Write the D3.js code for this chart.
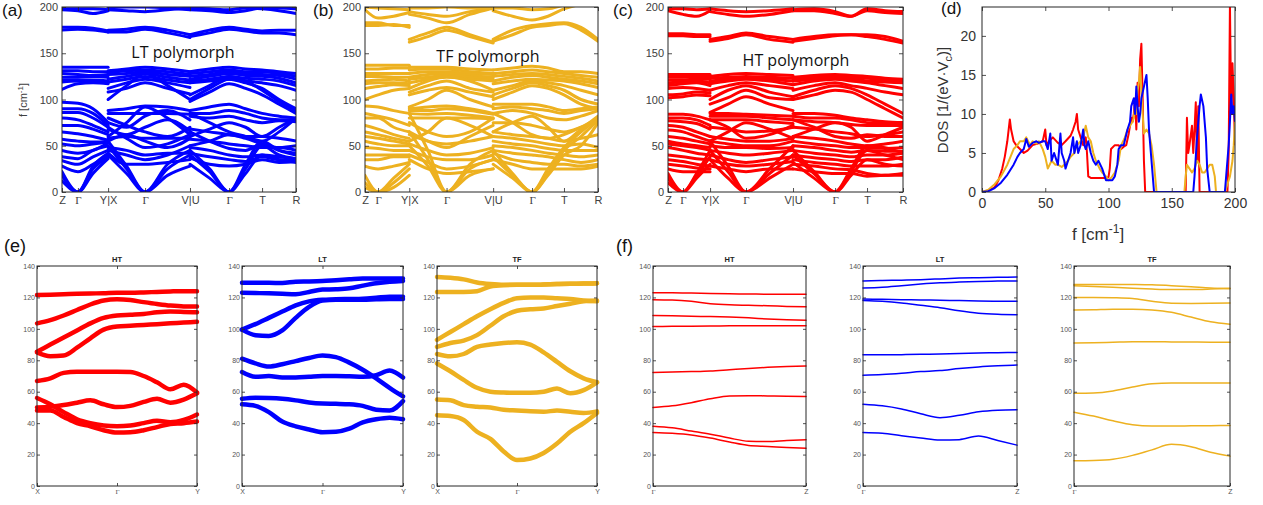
<!DOCTYPE html>
<html><head><meta charset="utf-8">
<script src="https://cdn.jsdelivr.net/npm/d3@7"></script>
<style>body{margin:0;background:#fff} svg{display:block}</style></head>
<body><svg id="c" width="1263" height="505"></svg>
<script>
// ---------------- DATA ----------------
const kLabels = ["Z","Γ","Y|X","Γ","V|U","Γ","T","R"];
const kPosLT = [0,0.068,0.197,0.355,0.547,0.714,0.855,1];
const kPosTF = [0,0.056,0.19,0.35,0.55,0.717,0.854,1];
const kPosHT = [0,0.064,0.179,0.332,0.532,0.711,0.847,1];
// sample positions (in k-point index units) for the three continuous path pieces
const groupIdx = [[0,1,1.5,2],[2,2.5,3,3.5,4],[4,4.5,5,5.5,6,6.5,7]];

const LT_g1 = [[198,198,198,197],[197,196,193,196],[178,178,177,174],[175,176,175,173],[135,135,135,135],[131,131,130,130],[128,127,126,127],[124,124,125,124],[121,121,121,120],[119,120,119,118],[111,117,118,117],[97,96,90,75],[90,90,85,72],[86,86,80,70],[80,78,72,65],[72,72,68,62],[65,63,60,56],[57,55,54,55],[52,50,52,54],[45,42,45,53],[38,36,45,50],[34,30,38,45],[28,22,30,40],[22,0,28,42],[18,0,25,38],[12,0,20,36]];
const LT_g2 = [[199,200,200,199,197],[197,196,195,197,199],[175,176,178,175,170],[173,173,176,172,167],[131,133,135,133,130],[129,131,132,130,127],[127,128,130,127,125],[122,125,128,124,121],[119,122,125,121,118],[112,118,122,118,113],[100,115,128,115,100],[108,112,118,112,106],[88,90,93,92,88],[85,85,85,85,84],[60,75,92,80,62],[75,70,82,88,78],[68,62,70,78,66],[80,72,65,60,70],[58,60,58,58,58],[55,62,55,48,58],[70,58,48,52,62],[48,45,40,42,42],[45,40,35,40,50],[42,30,30,32,35],[55,28,0,30,45],[50,25,0,25,40],[40,20,0,18,28]];
const LT_g3 = [[199,198,197,199,198,196,193],[197,196,194,196,199,199,198],[170,175,178,176,174,175,175],[168,172,176,174,172,172,170],[130,133,135,133,132,130,128],[128,130,132,130,130,128,125],[125,127,130,128,127,126,122],[122,125,128,126,125,123,118],[120,122,125,123,122,120,115],[118,120,122,120,118,115,110],[100,112,122,118,112,100,90],[105,115,125,120,110,98,88],[98,108,117,112,105,95,85],[88,92,95,90,85,82,80],[85,85,88,85,80,78,78],[82,80,82,78,75,77,76],[60,68,75,70,60,70,80],[85,75,65,60,55,65,80],[68,65,62,60,60,58,55],[50,55,62,58,52,48,50],[57,55,52,50,48,48,45],[65,55,47,45,52,45,42],[48,45,40,38,40,38,36],[42,38,35,33,38,35,35],[37,30,28,30,35,32,33],[45,25,0,30,55,45,40],[40,22,0,25,50,40,36],[30,15,0,20,40,35,32]];

const TF_g1 = [[200,199,198,197],[197,188,190,194],[183,183,180,180],[180,180,181,178],[137,137,137,137],[133,133,134,134],[128,128,128,128],[125,125,124,124],[120,121,122,120],[117,118,118,117],[112,114,116,115],[100,105,110,112],[93,92,88,85],[85,82,78,72],[80,80,70,65],[72,68,62,58],[65,62,58,55],[60,58,55,52],[55,52,50,50],[48,47,45,45],[40,40,40,40],[35,35,38,38],[28,25,28,32],[18,0,15,30],[10,0,10,25],[5,0,5,18]];
const TF_g2 = [[199,199,200,199,199],[195,192,190,195,199],[192,188,183,192,199],[165,172,178,170,162],[162,168,175,168,161],[135,135,135,133,132],[132,133,133,130,128],[128,130,130,128,127],[124,127,128,126,124],[122,124,126,124,122],[118,122,124,122,120],[112,120,125,120,110],[108,115,120,112,108],[105,110,113,108,103],[92,100,110,100,92],[90,92,93,90,85],[88,88,90,88,84],[85,84,85,83,80],[80,80,80,80,79],[55,65,80,72,60],[75,65,60,65,80],[62,55,52,55,60],[65,55,48,60,72],[52,45,40,42,48],[45,38,35,35,40],[40,32,25,28,35],[35,25,20,22,25],[85,45,0,30,45],[65,35,0,25,35],[50,28,0,18,25]];
const TF_g3 = [[199,199,197,198,202,205,208],[196,190,186,190,198,203,206],[165,175,180,182,183,178,165],[163,170,178,180,182,175,163],[132,134,136,134,130,130,128],[128,130,132,130,128,126,124],[125,127,128,127,125,123,120],[120,124,126,124,122,120,117],[117,120,122,121,120,117,113],[110,115,120,118,115,110,105],[105,112,118,115,110,100,95],[100,108,115,112,105,95,90],[95,95,95,92,88,90,92],[90,92,90,88,85,88,90],[85,88,85,80,78,82,88],[65,75,82,70,55,68,82],[75,75,72,68,65,70,78],[85,75,62,58,62,70,80],[65,62,60,58,55,58,62],[60,58,55,52,50,52,48],[55,52,50,47,45,45,45],[50,48,45,42,40,38,40],[45,42,40,38,35,32,35],[42,35,32,30,30,28,30],[35,30,25,25,25,25,28],[45,20,0,25,48,65,80],[38,18,0,20,45,60,78],[30,15,0,18,40,50,75]];

const HT_g1 = [[198,198,197,198],[196,192,190,196],[171,171,170,170],[169,169,168,168],[127,127,127,127],[124,124,125,125],[121,121,122,122],[118,119,120,118],[115,117,118,115],[112,113,112,110],[105,106,108,107],[102,103,105,104],[84,84,82,78],[80,80,78,72],[77,76,74,68],[72,70,65,60],[67,65,60,55],[60,58,55,52],[55,52,50,48],[52,50,48,45],[48,45,42,40],[40,38,36,35],[35,33,30,28],[30,28,26,25],[25,22,22,22],[20,0,20,45],[15,0,18,38],[10,0,15,30]];
const HT_g2 = [[198,196,195,196,198],[195,192,190,192,196],[165,168,172,168,165],[163,166,170,165,162],[125,127,128,127,126],[123,124,125,124,123],[120,122,123,122,120],[117,120,122,120,116],[110,115,118,115,112],[100,110,115,108,103],[95,102,110,102,100],[86,95,103,95,88],[85,85,84,83,82],[82,82,82,80,78],[78,78,78,76,74],[55,65,75,68,58],[70,68,65,66,70],[78,70,58,62,72],[60,57,55,55,58],[55,52,50,50,55],[50,48,48,47,48],[45,42,40,42,45],[40,35,32,35,38],[35,30,28,30,33],[28,25,22,25,25],[55,28,0,25,50],[45,22,0,20,40],[35,15,0,15,30]];
const HT_g3 = [[197,198,195,190,198,196,195],[196,196,193,190,196,194,193],[165,168,170,170,170,168,163],[163,166,169,170,168,165,161],[124,126,127,126,125,123,122],[122,124,125,124,123,121,120],[120,122,123,122,120,119,118],[116,120,122,120,118,115,112],[110,115,118,115,112,108,105],[103,110,115,112,105,95,85],[100,105,110,108,100,90,80],[85,85,83,80,78,76,75],[82,80,80,78,75,74,73],[78,76,75,73,72,72,72],[60,68,75,70,55,62,70],[70,68,65,63,60,62,65],[78,70,60,58,62,60,60],[60,58,55,52,50,52,55],[55,52,50,48,48,47,48],[50,48,45,43,45,44,44],[45,42,40,38,40,40,42],[40,37,35,33,35,35,38],[35,32,30,28,28,28,30],[30,28,25,24,20,18,20],[25,22,20,20,17,18,18],[45,22,0,25,50,48,42],[40,20,0,22,45,40,35],[32,15,0,18,35,30,28]];

// DOS (panel d)
const dosF_HT = [0,5,10,13,16,18,20,22,23,25,27,30,33,36,40,44,48,50,51,53,56,60,63,66,70,72,74,75,76,78,80,82,83,84,86,90,95,98,100,101,102,105,108,110,112,114,116,118,119,120,121,122,123,124,125,126,127,128,129,140,160,161,162,163,164,166,167,168,169,170,171,172,180,193,194,195,196,197,198,199,200];
const dosV_HT = [0,0.2,0.6,1.5,3,4.5,6.5,9.3,8,6.5,6,5.5,5,5.3,6,6.2,6.5,8,6,6.5,7,6.3,6,6.5,7.2,8,9,10,8,7,6,7,5,2,1.8,1.8,1.8,1.8,1.9,3,5.5,6,6,5.5,5.8,6,7.5,9.5,9,10,12,8,14,11,17,19,12,4,0,0,0,0,9.5,5,6,8.5,5,8,11.5,4,11,0,0,0,0,5,24,10,16.5,12,6];
const dosF_TF = [0,5,10,15,20,25,28,30,33,35,38,40,43,45,48,50,52,55,58,60,63,65,68,70,73,75,78,80,82,84,86,88,90,93,95,98,100,102,105,108,110,113,115,117,119,120,121,122,123,124,125,126,127,128,130,132,134,136,138,140,160,161,162,164,166,168,170,172,174,176,178,180,182,184,185,190,192,194,196,198,199,200];
const dosV_TF = [0,0.3,1,2,3.5,5.5,6,6.5,6.5,7,6,6.5,6.2,6.5,5.5,4.5,3,4,3.5,3.5,3.2,3.5,4,4.5,5,6,6.5,7,8.5,7,6.5,5,4,3,2.5,2,1.5,1.8,2.5,4,6,7,8,8.5,9,9.5,11,10,13,14,16,13,10,7.5,8,7.5,6,3.5,0,0,0,2,3.5,3,2.5,3,4,3.5,2.5,2.5,3,3.5,3.5,2,0,0,0,1,2,4,6,9];
const dosF_LT = [0,5,10,15,20,25,28,30,33,35,37,40,43,45,48,50,52,54,55,57,58,60,62,63,65,66,68,70,72,73,75,76,78,80,81,82,84,86,88,90,92,95,97,98,100,103,105,107,108,110,112,115,117,118,120,121,122,123,124,125,126,128,130,131,132,134,136,140,160,167,168,170,172,173,175,177,178,180,185,192,193,195,196,197,198,199,200];
const dosV_LT = [0,0.1,0.5,1.2,2.2,3.5,4.5,5,5.5,6.8,5.8,6.3,6.5,6.3,6.5,6.5,5.5,7.5,4,5,4.5,3.5,7.5,5,4,3,4,5,7,5,6.5,5,6,8,6,5.5,6.5,5,4,3.5,4,3,2,1.5,1.5,1.5,2,3.5,5.5,6,6,8,9,11,12,10,13.5,11,9,10,12,13.5,15,12,8,4,0,0,0,0,2,7,11,12.5,11,7,3,0,0,0,2,6,9,12.5,10,11,9];
const dosTicksX = [0,50,100,150,200];
const dosTicksY = [0,5,10,15,20];

// panel (e): X - Γ - Y, 13 samples
const eGrid = [0,1/12,2/12,3/12,4/12,5/12,6/12,7/12,8/12,9/12,10/12,11/12,1];
const eHT = [[121.5,121.7,122,122.3,122.5,122.7,123,123,123.2,123.5,123.8,124,124],[103.5,105.5,108.5,112,115.5,118,118.8,118.3,117,115.8,114.8,114.3,114.3],[85.5,90,94.5,99,103.5,107,108.5,109,109.5,110.5,111,110.8,110.5],[85,82.5,83,88,94,99.5,101.5,102,102.5,103,103.5,104,104.5],[66.8,68.5,72,72.7,72.7,72.7,72.7,72.5,70,66,61.5,64.5,59.5],[50,50.5,51.5,53,54.5,52,50.2,51,53.5,55.5,53,55,59],[56,52,47,42.5,40,38.5,38,38.5,40,41.5,40.5,42,45.5],[48,48,44,40,38,35.5,34,34.2,35.5,37.5,39.5,40,41]];
const eLT = [[129.3,129.3,129.3,129.2,130,130.2,130.5,131,131.5,132,132,132,132],[123,122.8,122.6,122.3,122,123.5,125,125.2,125.8,127.5,129,130,130.5],[99.5,103,107,111,115,117.5,118.5,118.8,119,119.2,119.8,120.5,120.5],[99.5,96,95.5,99,107,114,118,118.5,118.5,118.5,118.8,119,119],[81,78,76,77.5,79.5,81.5,83,82,78.5,74,68.5,62.5,57],[72.5,69.5,70,69,69,69.5,70,70,69.8,69.5,70.5,73.5,69],[55.5,56.2,56,55.5,54.5,53.2,52.5,52.3,52,51,48.5,48,54],[52,51,47,41,38,36,34.2,34.5,36.5,40.5,42.5,43.5,42.5]];
const eTF = [[133,132.5,131.5,129.5,128.5,128,128,128,128.2,128.5,128.7,128.8,129],[123.5,123.5,123.5,124,127,127.8,128,128,128.2,128.5,128.7,128.8,129],[93,98,103,108,112.5,116.5,119.5,120,120,119.5,119,118,117.5],[88.5,91,92.5,96,102,108,111.5,112.5,113,114.5,116,117.5,118],[84,82.5,84,88.5,90,91,91.5,90,85,79,73,68.5,66],[78,73,67.5,62.5,60,59.5,59.3,59.3,60,62,59,61,66],[55,54.5,51.5,50.5,50,48.5,48,47.5,47.3,48,47.2,46.5,47.5],[45,44.5,42,34.5,30,22,16.5,17.5,21,27,34.5,40,46.5]];

// panel (f): Γ - Z, 9 samples
const fGrid = [0,1/8,2/8,3/8,4/8,5/8,6/8,7/8,1];
const fHT = [[123,123,122.8,122.5,122.3,122.2,122,122,122],[118.5,118.3,117.5,116,115.3,115,114.7,114.3,114],[108.5,108.3,108,107.8,107.5,107,106.3,105.8,105.5],[101.5,101.6,101.7,101.8,101.9,102,102,102,102],[72.3,72.5,72.8,73.2,74,74.8,75.5,76,76.3],[50,51,53,55.5,57.3,57.5,57.3,57.1,57],[38,37,35,33,30.5,28.5,28.3,29,29.5],[34,33.5,32.5,30.5,28,25.8,25.2,24.5,24]];
const fLT = [[130.5,130.8,131,131.3,131.8,132.3,132.6,132.8,133],[126,126.5,127.5,128.5,129.3,129.8,130.2,130.4,130.5],[119,118.8,118.6,118.4,118.2,118,117.8,117.6,117.5],[118,117.5,116.5,115,113.5,111.5,110,109.3,109],[83.5,83.5,83.6,83.8,84,84.3,84.6,84.8,85],[70.5,71,71.8,72.8,73.5,74.8,75.8,76.5,77],[52,51,49,46,43.5,45,47.2,48.2,48.5],[34,33.5,32,30.5,29.2,29.5,31.8,29,26]];
const fTF = [[128.2,128.3,128.3,128.2,128,127.5,126.8,126,125.5],[127.5,127,126.5,125.8,125.3,125,125,125.3,125.8],[120,120,119.8,119.3,117.5,116.3,116.2,116.3,116.5],[112,112.2,112.5,112.5,112,110.5,107.5,104.5,103],[91,91.2,91.5,91.8,91.8,91.7,91.6,91.5,91.5],[59,59.2,60.5,63,65,65.5,65.5,65.5,65.5],[47,44.5,41.5,39,38.2,38.2,38.3,38.4,38.5],[16,16.2,17,19.5,23,26.5,25,21.5,19]];

const smallYTicks = [0,20,40,60,80,100,120,140];

// ---------------- DRAWING ----------------
const C = {blue:"#0000ff", yellow:"#edb120", red:"#ff0000", axis:"#262626"};
const svg = d3.select("#c");
const defs = svg.append("defs");
let clipN = 0;
function clip(x0,y0,w,h){const id="cl"+(clipN++);defs.append("clipPath").attr("id",id).append("rect").attr("x",x0).attr("y",y0).attr("width",w).attr("height",h);return "url(#"+id+")";}

function axes(g, xs, ys, o){
  const [X0,X1]=xs.range(), [Y1,Y0]=ys.range();
  const a1=g.append("g").attr("transform",`translate(${X0},0)`).call(d3.axisLeft(ys).tickValues(o.yTicks).tickSize(-o.tl).tickPadding(o.ypad).tickFormat(d3.format("d")));
  const a2=g.append("g").attr("transform",`translate(${X1},0)`).call(d3.axisRight(ys).tickValues(o.yTicks).tickSize(-o.tl).tickFormat(""));
  const a3=g.append("g").attr("transform",`translate(0,${Y1})`).call(d3.axisBottom(xs).tickValues(o.xTicks).tickSize(-o.tl).tickPadding(o.xpad).tickFormat((d,i)=>o.xLabels? o.xLabels[i] : d3.format("d")(d)));
  const a4=g.append("g").attr("transform",`translate(0,${Y0})`).call(d3.axisTop(xs).tickValues(o.xTicks).tickSize(-o.tl).tickFormat(""));
  [a1,a2,a3,a4].forEach(a=>{a.select(".domain").remove();a.selectAll("line").attr("stroke",C.axis).attr("stroke-width",0.8);
    a.selectAll("text").attr("fill",o.tc||"#404040").style("font-size",o.fs+"px").style("font-family","Arial, 'Liberation Sans', sans-serif");});
  a3.selectAll("text").filter(function(){return this.textContent==="Γ";}).style("font-family","'Liberation Serif', 'DejaVu Serif', serif");
  g.append("rect").attr("x",X0).attr("y",Y0).attr("width",X1-X0).attr("height",Y1-Y0).attr("fill","none").attr("stroke",C.axis).attr("stroke-width",1);
}

function bandPanel(o){
  const g = svg.append("g");
  const xs = d3.scaleLinear().domain([0,1]).range([o.x0,o.x1]);
  const ys = d3.scaleLinear().domain([0,200]).range([192,7]);
  const kx = idx=>{const i=Math.floor(idx),f=idx-i; if(i>=o.kPos.length-1) return o.kPos[o.kPos.length-1]; return o.kPos[i]+(o.kPos[i+1]-o.kPos[i])*f;};
  const lines = g.append("g").attr("clip-path",clip(o.x0,7,o.x1-o.x0,185));
  o.groups.forEach((bands,gi)=>{
    const ks = groupIdx[gi].map(kx);
    const line = d3.line().x((d,i)=>xs(ks[i])).y(d=>ys(d)).curve(d3.curveMonotoneX);
    lines.selectAll(null).data(bands).enter().append("path").attr("d",line).attr("fill","none")
      .attr("stroke",o.color).attr("stroke-width",3).attr("stroke-linejoin","round").attr("stroke-linecap","round");
  });
  axes(g,xs,ys,{yTicks:[0,50,100,150,200],xTicks:o.kPos,xLabels:kLabels,tl:4,ypad:4,xpad:4,fs:11});
  g.append("text").attr("x",o.tx).attr("y",o.ty).attr("text-anchor","middle").style("font-family","'Open Sans', sans-serif").style("font-size","16px").attr("fill","#111").text(o.title);
  g.append("text").attr("x",o.lx).attr("y",16).style("font-family","Arial, 'Liberation Sans', sans-serif").style("font-size","17px").attr("fill","#111").text(o.label);
}

bandPanel({x0:62,x1:296,kPos:kPosLT,groups:[LT_g1,LT_g2,LT_g3],color:C.blue,title:"LT polymorph",tx:183,ty:58,label:"(a)",lx:2});
bandPanel({x0:365,x1:598,kPos:kPosTF,groups:[TF_g1,TF_g2,TF_g3],color:C.yellow,title:"TF polymorph",tx:488,ty:62,label:"(b)",lx:313});
bandPanel({x0:668,x1:903,kPos:kPosHT,groups:[HT_g1,HT_g2,HT_g3],color:C.red,title:"HT polymorph",tx:796,ty:66,label:"(c)",lx:613});

// y label of (a)
svg.append("text").attr("transform","translate(27,100) rotate(-90)").attr("text-anchor","middle")
  .style("font-family","Arial, 'Liberation Sans', sans-serif").style("font-size","11px").attr("fill","#404040")
  .call(t=>{t.append("tspan").text("f [cm");t.append("tspan").attr("dy",-4).style("font-size","8px").text("-1");t.append("tspan").attr("dy",4).text("]");});

// ---- panel (d) ----
(function(){
  const g = svg.append("g");
  const xs = d3.scaleLinear().domain([0,200]).range([982,1235]);
  const ys = d3.scaleLinear().domain([0,23.7]).range([192,7]);
  const cl = g.append("g").attr("clip-path",clip(982,7,253,185));
  const series = [[dosF_HT,dosV_HT,C.red],[dosF_TF,dosV_TF,C.yellow],[dosF_LT,dosV_LT,C.blue]];
  series.forEach(([F,V,col])=>{
    const line = d3.line().x((d,i)=>xs(F[i])).y(d=>ys(d));
    cl.append("path").datum(V).attr("d",line).attr("fill","none").attr("stroke",col).attr("stroke-width",2).attr("stroke-linejoin","round");
  });
  axes(g,xs,ys,{yTicks:dosTicksY,xTicks:dosTicksX,tl:4,ypad:6,xpad:6,fs:14,tc:"#333"});
  g.append("text").attr("x",941).attr("y",14).style("font-family","Arial, 'Liberation Sans', sans-serif").style("font-size","17px").attr("fill","#111").text("(d)");
  g.append("text").attr("transform","translate(948,100) rotate(-90)").attr("text-anchor","middle")
    .style("font-family","Arial, 'Liberation Sans', sans-serif").style("font-size","15px").attr("fill","#333")
    .call(t=>{t.append("tspan").text("DOS [1/(eV·V");t.append("tspan").attr("dy",4).style("font-size","11px").text("c");t.append("tspan").attr("dy",-4).text(")]");});
  g.append("text").attr("x",1098).attr("y",240).attr("text-anchor","middle")
    .style("font-family","Arial, 'Liberation Sans', sans-serif").style("font-size","17px").attr("fill","#333")
    .call(t=>{t.append("tspan").text("f [cm");t.append("tspan").attr("dy",-7).style("font-size","12px").text("-1");t.append("tspan").attr("dy",7).text("]");});
})();

// ---- panels (e) & (f) ----
function smallPanel(o){
  const g = svg.append("g");
  const xs = d3.scaleLinear().domain([0,1]).range([o.x0,o.x1]);
  const ys = d3.scaleLinear().domain([0,140]).range([486,266]);
  const cl = g.append("g").attr("clip-path",clip(o.x0-3,263,o.x1-o.x0+6,226));
  const line = d3.line().x((d,i)=>xs(o.grid[i])).y(d=>ys(d)).curve(d3.curveMonotoneX);
  cl.selectAll(null).data(o.bands).enter().append("path").attr("d",line).attr("fill","none")
    .attr("stroke",o.color).attr("stroke-width",o.sw).attr("stroke-linecap","round").attr("stroke-linejoin","round");
  axes(g,xs,ys,{yTicks:smallYTicks,xTicks:o.xTicks,xLabels:o.xLabels,tl:3,ypad:2,xpad:3,fs:7,tc:"#555"});
  g.append("text").attr("x",(o.x0+o.x1)/2).attr("y",262).attr("text-anchor","middle")
    .style("font-family","Arial, 'Liberation Sans', sans-serif").style("font-size","7.5px").style("font-weight","bold").attr("fill","#222").text(o.title);
}
const eX = [0,0.5,1], eXL = ["X","Γ","Y"], fX=[0,1], fXL=["Γ","Z"];
smallPanel({x0:37,x1:197,grid:eGrid,bands:eHT,color:C.red,sw:4.5,title:"HT",xTicks:eX,xLabels:eXL});
smallPanel({x0:242,x1:403,grid:eGrid,bands:eLT,color:C.blue,sw:4.5,title:"LT",xTicks:eX,xLabels:eXL});
smallPanel({x0:437,x1:597,grid:eGrid,bands:eTF,color:C.yellow,sw:4.5,title:"TF",xTicks:eX,xLabels:eXL});
smallPanel({x0:653,x1:806,grid:fGrid,bands:fHT,color:C.red,sw:1.5,title:"HT",xTicks:fX,xLabels:fXL});
smallPanel({x0:863,x1:1017,grid:fGrid,bands:fLT,color:C.blue,sw:1.5,title:"LT",xTicks:fX,xLabels:fXL});
smallPanel({x0:1074,x1:1230,grid:fGrid,bands:fTF,color:C.yellow,sw:1.5,title:"TF",xTicks:fX,xLabels:fXL});
svg.append("text").attr("x",4).attr("y",252).style("font-family","Arial, 'Liberation Sans', sans-serif").style("font-size","18px").attr("fill","#111").text("(e)");
svg.append("text").attr("x",616).attr("y",252).style("font-family","Arial, 'Liberation Sans', sans-serif").style("font-size","18px").attr("fill","#111").text("(f)");
</script></body></html>
